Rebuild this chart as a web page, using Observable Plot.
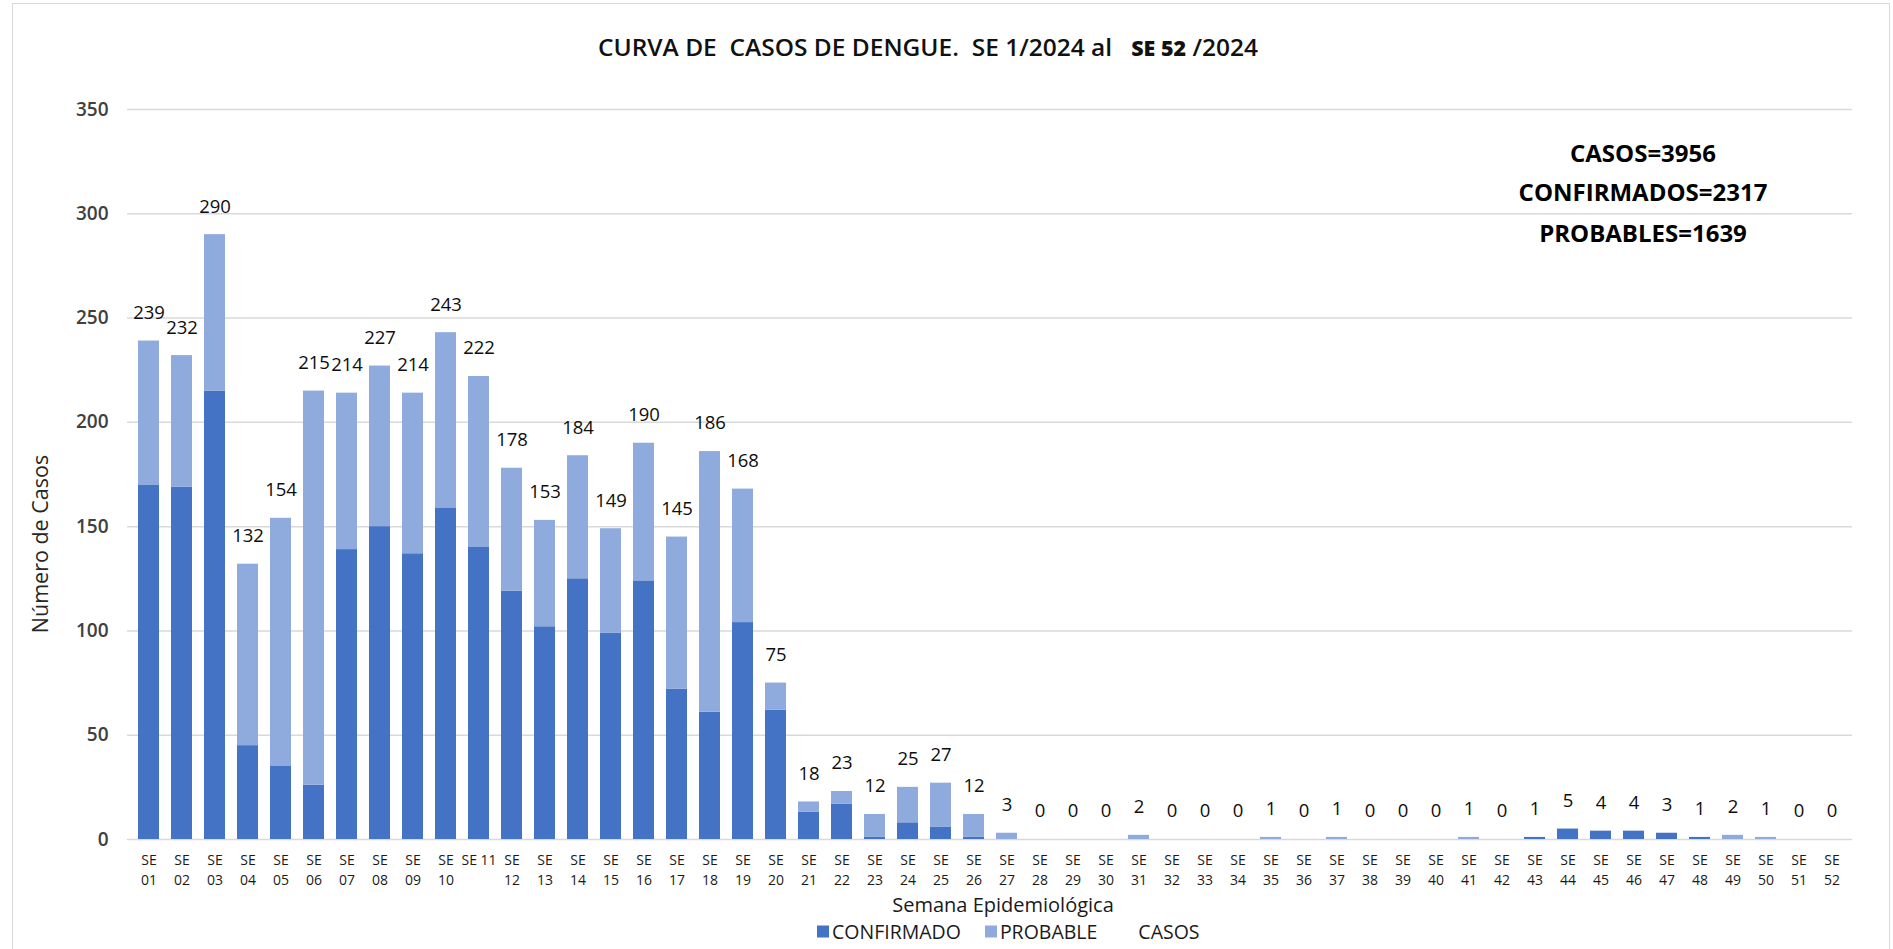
<!DOCTYPE html>
<html>
<head>
<meta charset="utf-8">
<script src="https://cdn.jsdelivr.net/npm/d3@7"></script>
<script src="https://cdn.jsdelivr.net/npm/@observablehq/plot@0.6"></script>
<style>
  body { margin: 0; background: #fff; font-family: "Open Sans", sans-serif; }
  #page { position: relative; width: 1893px; height: 949px; overflow: hidden; background: #fff; }
  #frame { position: absolute; left: 12px; top: 3px; width: 1878px; height: 990px; border: 1.5px solid #d9d9d9; box-sizing: border-box; }
  .abs { position: absolute; white-space: pre; transform: translate(-50%, -50%); }
  #title { left: 928px; top: 46px; font-size: 24px; font-weight: 600; color: #111; }
  #title b { font-weight: 800; font-size: 21px; }
  .annot { left: 1643px; font-size: 24px; font-weight: 700; color: #000; }
  #ylab { left: 39px; top: 544px; font-size: 21.5px; color: #262626; transform: translate(-50%, -50%) rotate(-90deg); }
  #xlab { left: 1003px; top: 904px; font-size: 20px; color: #1a1a1a; }
  #legend { position: absolute; left: 817px; top: 931px; transform: translateY(-50%); display: flex; align-items: center; font-size: 19.5px; color: #1a1a1a; }
  #legend .sw { width: 12px; height: 12px; margin-right: 3px; }
  #chart { position: absolute; left: 0; top: 60px; }
</style>
</head>
<body>
<div id="page">
  <div id="frame"></div>
  <div id="title" class="abs">CURVA DE  CASOS DE DENGUE.  SE 1/2024 al   <b>SE 52</b> /2024</div>
  <div class="abs annot" style="top:152px">CASOS=3956</div>
  <div class="abs annot" style="top:191px">CONFIRMADOS=2317</div>
  <div class="abs annot" style="top:232px">PROBABLES=1639</div>
  <div id="ylab" class="abs">Número de Casos</div>
  <div id="chart"></div>
  <div id="xlab" class="abs">Semana Epidemiológica</div>
  <div id="legend"></div>
</div>
<script>
// ---- data ----
const weeks = ["01","02","03","04","05","06","07","08","09","10","11","12","13","14","15","16","17","18","19","20","21","22","23","24","25","26","27","28","29","30","31","32","33","34","35","36","37","38","39","40","41","42","43","44","45","46","47","48","49","50","51","52"];
const xTickLabels = ["SE\n01","SE\n02","SE\n03","SE\n04","SE\n05","SE\n06","SE\n07","SE\n08","SE\n09","SE\n10","SE 11","SE\n12","SE\n13","SE\n14","SE\n15","SE\n16","SE\n17","SE\n18","SE\n19","SE\n20","SE\n21","SE\n22","SE\n23","SE\n24","SE\n25","SE\n26","SE\n27","SE\n28","SE\n29","SE\n30","SE\n31","SE\n32","SE\n33","SE\n34","SE\n35","SE\n36","SE\n37","SE\n38","SE\n39","SE\n40","SE\n41","SE\n42","SE\n43","SE\n44","SE\n45","SE\n46","SE\n47","SE\n48","SE\n49","SE\n50","SE\n51","SE\n52"];
const confirmado = [170,169,215,45,35,26,139,150,137,159,140,119,102,125,99,124,72,61,104,62,13,17,1,8,6,1,0,0,0,0,0,0,0,0,0,0,0,0,0,0,0,0,1,5,4,4,3,1,0,0,0,0];
const probable   = [69,63,75,87,119,189,75,77,77,84,82,59,51,59,50,66,73,125,64,13,5,6,11,17,21,11,3,0,0,0,2,0,0,0,1,0,1,0,0,0,1,0,0,0,0,0,0,0,2,1,0,0];
const casos      = [239,232,290,132,154,215,214,227,214,243,222,178,153,184,149,190,145,186,168,75,18,23,12,25,27,12,3,0,0,0,2,0,0,0,1,0,1,0,0,0,1,0,1,5,4,4,3,1,2,1,0,0];
const yTicks = [0,50,100,150,200,250,300,350];
const series = ["CONFIRMADO","PROBABLE"];
const colors = ["#4472C4","#8FAADC"];

// ---- build tables ----
const stacked = [];
weeks.forEach((w, i) => {
  stacked.push({week: w, serie: series[0], value: confirmado[i]});
  stacked.push({week: w, serie: series[1], value: probable[i]});
});
const totals = weeks.map((w, i) => ({week: w, casos: casos[i]}));
const tickLabel = new Map(weeks.map((w, i) => [w, xTickLabels[i]]));

const chart = Plot.plot({
  width: 1893,
  height: 830,
  marginLeft: 127,
  marginRight: 41,
  marginTop: 49,
  marginBottom: 51,
  style: {fontFamily: "Open Sans, sans-serif", background: "transparent", overflow: "visible"},
  x: {domain: weeks, paddingInner: 0.37, paddingOuter: 0.185, label: null},
  y: {domain: [0, 350], label: null},
  color: {domain: series, range: colors},
  marks: [
    Plot.ruleY(yTicks, {stroke: "#d9d9d9", strokeWidth: 1.5}),
    Plot.barY(stacked, {x: "week", y: "value", fill: "serie"}),
    Plot.text(totals, {x: "week", y: "casos", text: d => String(d.casos), dy: -28, fontSize: 18.5, fill: "#0d0d0d", lineAnchor: "middle"}),
    Plot.axisY({ticks: yTicks, tickSize: 0, tickPadding: 19, fontSize: 19, fontWeight: 600, color: "#404040", label: null}),
    Plot.axisX({tickSize: 0, tickPadding: 12, tickFormat: d => tickLabel.get(d), fontSize: 14, lineHeight: 1.4, color: "#1a1a1a", label: null})
  ]
});
document.getElementById("chart").appendChild(chart);

// legend
const legend = document.getElementById("legend");
const items = [["CONFIRMADO", colors[0]], ["PROBABLE", colors[1]], ["CASOS", null]];
items.forEach(([name, col], i) => {
  const wrap = document.createElement("div");
  wrap.style.display = "flex";
  wrap.style.alignItems = "center";
  wrap.style.marginRight = i === 0 ? "24px" : "26px";
  const sw = document.createElement("div");
  sw.className = "sw";
  sw.style.background = col || "transparent";
  wrap.appendChild(sw);
  const t = document.createElement("span");
  t.textContent = name;
  wrap.appendChild(t);
  legend.appendChild(wrap);
});

// fit title width to reference
const title = document.getElementById("title");
const w = title.getBoundingClientRect().width;
title.style.transform = `translate(-50%, -50%) scaleX(${660 / w})`;
</script>
</body>
</html>
